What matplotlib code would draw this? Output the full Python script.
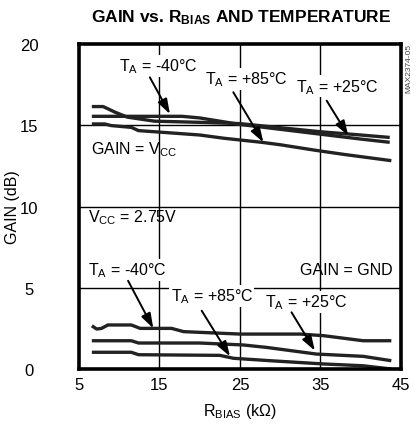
import matplotlib
matplotlib.use("Agg")
import matplotlib.pyplot as plt
from matplotlib import font_manager

names = {f.name for f in font_manager.fontManager.ttflist}
FAM = "Liberation Sans Narrow" if "Liberation Sans Narrow" in names else "Liberation Sans"
plt.rcParams['font.family'] = [FAM, 'DejaVu Sans']
plt.rcParams['mathtext.fontset'] = 'custom'
plt.rcParams['mathtext.rm'] = FAM
plt.rcParams['mathtext.it'] = FAM
plt.rcParams['mathtext.bf'] = FAM + ':bold'

# --- data (GAIN = VCC) ---
vcc_m40_x = [6.6, 17.8, 20, 22.5, 25, 30, 35, 40, 43.6]
vcc_m40_y = [15.55, 15.55, 15.45, 15.25, 15.05, 14.75, 14.45, 14.15, 13.95]
vcc_p25_x = [6.6, 8.0, 9.5, 11, 14.4, 20, 25, 30, 35, 40, 43.6]
vcc_p25_y = [16.15, 16.15, 15.8, 15.5, 15.25, 15.18, 15.1, 14.85, 14.6, 14.4, 14.25]
vcc_p85_x = [6.6, 8.2, 9.0, 11.5, 12.4, 14.4, 20, 23, 27.7, 30, 34.5, 38, 43.8]
vcc_p85_y = [15.08, 15.08, 14.98, 14.87, 14.67, 14.6, 14.4, 14.2, 13.95, 13.8, 13.45, 13.2, 12.82]

# --- data (GAIN = GND) ---
gnd_m40_x = [6.6, 7.2, 7.8, 8.6, 11.5, 12.6, 16.5, 18.0, 25.0, 32.5, 35.4, 40.3, 43.8]
gnd_m40_y = [2.66, 2.46, 2.5, 2.71, 2.71, 2.5, 2.5, 2.3, 2.15, 2.15, 2.05, 1.74, 1.74]
gnd_p25_x = [6.6, 11.5, 12.4, 20, 25.4, 28.3, 34.5, 40.3, 43.8]
gnd_p25_y = [1.74, 1.74, 1.6, 1.6, 1.48, 1.33, 0.92, 0.78, 0.51]
gnd_p85_x = [6.6, 11.5, 12.4, 22.5, 24.2, 28.8, 35.4, 40.3, 43.8]
gnd_p85_y = [1.03, 1.03, 0.88, 0.84, 0.66, 0.51, 0.31, 0.2, 0.0]

xticks = [5, 15, 25, 35, 45]
yticks = [0, 5, 10, 15, 20]

fig = plt.figure(figsize=(4.17, 4.31), dpi=100)
ax = fig.add_axes([0.1894, 0.1415, 0.7722, 0.7541])
ax.set_xlim(5, 45)
ax.set_ylim(0, 20)

for v in [15, 25, 35]:
    ax.axvline(v, color='black', lw=1.0, zorder=1)
for v in [5, 10, 15]:
    ax.axhline(v, color='black', lw=1.0, zorder=1)

lc = '#222222'
for xs, ys in [(vcc_m40_x, vcc_m40_y), (vcc_p25_x, vcc_p25_y), (vcc_p85_x, vcc_p85_y),
               (gnd_m40_x, gnd_m40_y), (gnd_p25_x, gnd_p25_y), (gnd_p85_x, gnd_p85_y)]:
    ax.plot(xs, ys, color=lc, lw=2.4, solid_joinstyle='round', solid_capstyle='butt', zorder=3)

fs = 11.5
bb = dict(facecolor='white', edgecolor='none', pad=1.0)

def label(txt, x, y, ha='center'):
    ax.text(x, y, txt, fontsize=fs, ha=ha, va='center', bbox=bb, zorder=2)

def arrow(x0, y0, x1, y1):
    ax.annotate('', xy=(x1, y1), xytext=(x0, y0),
                arrowprops=dict(arrowstyle='-|>,head_length=0.9,head_width=0.3',
                                color='black', lw=1.4, shrinkA=0, shrinkB=0), zorder=4)

label(r'T$_\mathregular{A}$ = -40°C', 14.8, 18.65)
arrow(13.8, 17.95, 16.3, 15.69)
label(r'T$_\mathregular{A}$ = +85°C', 25.75, 17.85)
arrow(24.17, 17.03, 27.9, 13.95)
label(r'T$_\mathregular{A}$ = +25°C', 37.05, 17.4)
arrow(35.77, 16.51, 38.45, 14.36)

ax.text(6.5, 13.54, r'GAIN = V$_\mathregular{CC}$', fontsize=fs, ha='left', va='center')
ax.text(6.1, 9.35, r'V$_\mathregular{CC}$ = 2.75V', fontsize=fs, ha='left', va='center')
ax.text(44.0, 6.1, 'GAIN = GND', fontsize=fs, ha='right', va='center')

label(r'T$_\mathregular{A}$ = -40°C', 6.1, 6.1, ha='left')
arrow(11.1, 5.43, 14.23, 2.5)
label(r'T$_\mathregular{A}$ = +85°C', 21.5, 4.49)
arrow(20.24, 3.59, 23.76, 0.78)
label(r'T$_\mathregular{A}$ = +25°C', 33.2, 4.12)
arrow(31.4, 3.49, 34.3, 1.13)

ax.set_xticks(xticks)
ax.set_yticks(yticks)
ax.set_xticklabels([str(t) for t in xticks])
ax.set_yticklabels([str(t) for t in yticks], ha='center')
ax.tick_params(length=0, labelsize=12)
ax.tick_params(axis='x', pad=6)
ax.tick_params(axis='y', pad=36)
for s in ax.spines.values():
    s.set_linewidth(2.6)
    s.set_zorder(5)

ax.set_xlabel(r'R$_\mathregular{BIAS}$ (k$\mathregular{\Omega}$)', fontsize=11.5, labelpad=6)
ax.set_ylabel('GAIN (dB)', fontsize=11.5, va='center')
ax.yaxis.set_label_coords(-0.208, 0.5)

fig.text(0.578, 0.958, r'GAIN vs. R$_\mathbf{BIAS}$ AND TEMPERATURE', fontsize=12.5,
         fontweight='bold', ha='center', va='center')
fig.text(0.981, 0.84, 'MAX2374-05', fontsize=6, rotation=90, ha='center', va='center', color='#444444')

fig.savefig('out.png', dpi=100)
